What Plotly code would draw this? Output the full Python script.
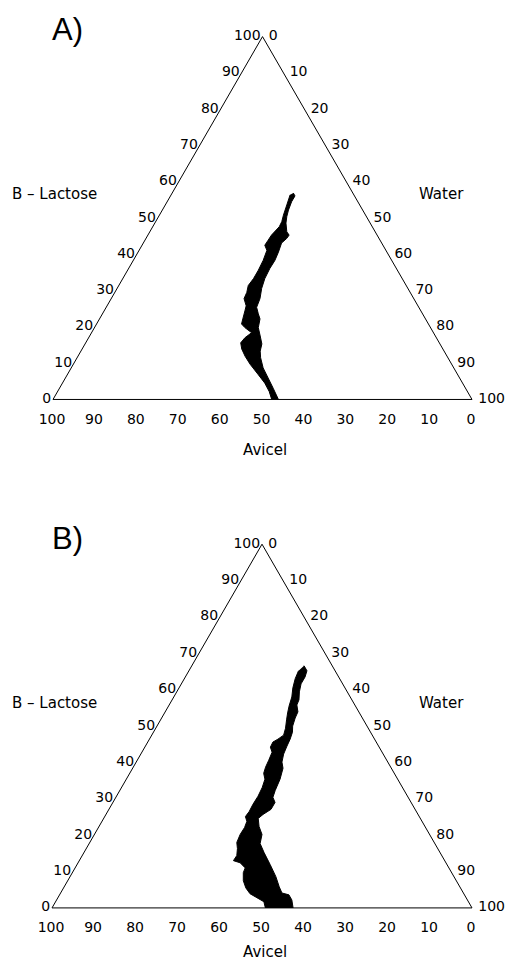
import plotly.graph_objects as go

# ---------------- data (percent) ----------------
# Panel A band outline: right edge top->bottom, then left edge bottom->top
a_lactose = [56.9, 56.1, 54.5, 52.2, 50.4, 48.6, 46.2, 45.3, 44.4, 43.1, 40.6, 38.3, 36.1, 33.3,
             30.6, 27.8, 25.4, 23.6, 22.2, 19.8, 17.5, 15.3, 13.3, 11.5, 8.7, 5.9, 3.1, 0.0,
             0.0, 2.2, 4.5, 6.9, 9.7, 11.9, 13.9, 15.6, 17.0, 18.4, 19.8, 20.8, 22.2, 24.4,
             25.8, 27.8, 29.5, 31.4, 33.3, 35.6, 38.3, 41.1, 42.5, 43.9, 45.3, 47.6, 49.0,
             50.8, 53.6, 56.4]
a_avicel = [14.2, 14.2, 15.8, 17.7, 19.0, 20.1, 21.1, 21.0, 22.0, 23.9, 25.9, 27.9, 30.2, 32.8,
            34.9, 36.7, 38.7, 39.2, 39.5, 41.1, 41.8, 42.5, 43.9, 44.7, 45.5, 45.7, 45.9, 46.2,
            47.8, 47.3, 47.2, 47.6, 48.1, 48.2, 48.0, 47.4, 45.7, 43.4, 44.3, 44.6, 43.6, 42.0,
            41.0, 40.5, 39.0, 37.7, 35.5, 33.2, 30.7, 28.4, 28.2, 26.7, 25.2, 22.2, 20.9,
            19.6, 17.4, 15.2]
a_water = [28.9, 29.7, 29.7, 30.1, 30.6, 31.3, 32.7, 33.7, 33.6, 33.0, 33.5, 33.8, 33.7, 33.9,
           34.5, 35.5, 35.9, 37.2, 38.3, 39.1, 40.7, 42.2, 42.8, 43.8, 45.8, 48.4, 51.0, 53.8,
           52.2, 50.5, 48.3, 45.5, 42.2, 39.9, 38.1, 37.0, 37.3, 38.2, 35.9, 34.6, 34.2, 33.6,
           33.2, 31.7, 31.5, 30.9, 31.2, 31.2, 31.0, 30.5, 29.3, 29.4, 29.5, 30.2, 30.1,
           29.6, 29.0, 28.4]

# Panel B band outline
b_lactose = [66.6, 65.2, 63.5, 61.6, 59.4, 57.2, 55.8, 53.9, 52.2, 50.0, 48.3, 46.4, 44.5, 42.3,
             40.1, 38.4, 35.4, 32.3, 30.4, 29.0, 27.1, 25.7, 24.6, 22.4, 20.2, 17.7, 15.2, 11.9,
             8.6, 5.8, 4.1, 3.6, 2.2, 0.0,
             0.0, 1.7, 2.8, 3.9, 5.5, 7.5, 9.7, 11.0, 12.4, 13.0, 14.4, 16.3, 18.0, 20.2, 22.1,
             23.8, 25.1, 26.5, 28.5, 30.7, 33.1, 35.4, 37.0, 38.7, 40.6, 42.8, 44.2, 45.6, 46.4,
             47.5, 49.4, 51.7, 53.6, 55.5, 58.0, 60.5, 63.0, 65.2]
b_avicel = [6.7, 6.7, 8.0, 9.9, 11.4, 12.6, 13.8, 14.5, 16.0, 17.7, 18.6, 20.1, 21.8, 23.7,
            25.2, 25.8, 28.0, 30.7, 32.2, 32.4, 34.3, 36.9, 38.6, 39.5, 39.9, 41.6, 41.9, 42.1,
            42.4, 43.0, 43.2, 41.8, 41.8, 42.6,
            49.2, 48.7, 49.8, 50.9, 51.1, 50.7, 49.6, 48.5, 49.0, 50.3, 48.8, 47.7, 47.0, 45.1,
            43.1, 41.7, 41.4, 39.8, 37.9, 35.6, 33.4, 31.6, 31.1, 29.8, 28.1, 26.2, 25.9, 24.6,
            23.0, 21.1, 19.7, 18.3, 17.1, 15.8, 13.9, 12.4, 10.6, 8.7]
b_water = [26.7, 28.1, 28.5, 28.5, 29.2, 30.2, 30.4, 31.6, 31.8, 32.3, 33.1, 33.5, 33.7, 34.0,
           34.7, 35.8, 36.6, 37.0, 37.4, 38.6, 38.6, 37.4, 36.8, 38.1, 39.9, 40.7, 42.9, 46.0,
           49.0, 51.2, 52.7, 54.6, 56.0, 57.4,
           50.8, 49.6, 47.4, 45.2, 43.4, 41.8, 40.7, 40.5, 38.6, 36.7, 36.8, 36.0, 35.0, 34.7,
           34.8, 34.5, 33.5, 33.7, 33.6, 33.7, 33.5, 33.0, 31.9, 31.5, 31.3, 31.0, 29.9, 29.8,
           30.6, 31.4, 30.9, 30.0, 29.3, 28.7, 28.1, 27.1, 26.4, 26.1]

tick_vals = [0, 10, 20, 30, 40, 50, 60, 70, 80, 90, 100]
tick_text = [str(v) for v in tick_vals]
panel_labels = ["A)", "B)"]
axis_names = {"left": "B \u2013 Lactose", "right": "Water", "bottom": "Avicel"}

FONT = "DejaVu Sans"
W, H = 512, 966
NB = "\u00a0"

fig = go.Figure()
fig.add_trace(go.Scatterternary(a=a_lactose, b=a_avicel, c=a_water, mode="lines",
                                fill="toself", fillcolor="black",
                                line=dict(color="black", width=1), subplot="ternary",
                                showlegend=False))
fig.add_trace(go.Scatterternary(a=b_lactose, b=b_avicel, c=b_water, mode="lines",
                                fill="toself", fillcolor="black",
                                line=dict(color="black", width=1), subplot="ternary2",
                                showlegend=False))


def axis(ticklen, texts):
    return dict(tickmode="array", tickvals=tick_vals, ticktext=texts,
                ticks="outside" if ticklen else "", ticklen=ticklen,
                tickcolor="rgba(0,0,0,0)",
                showgrid=False, linecolor="black", linewidth=1, title=dict(text=""),
                tickfont=dict(family=FONT, size=14, color="black"))


def tern(xd, yd):
    return dict(sum=100, domain=dict(x=xd, y=yd), bgcolor="white",
                aaxis=axis(0, tick_text),
                baxis=axis(7, [t + NB + NB for t in tick_text]),
                caxis=axis(0, [NB + t for t in tick_text]))


fig.update_layout(
    width=W, height=H, margin=dict(l=0, r=0, t=0, b=0),
    paper_bgcolor="white", plot_bgcolor="white",
    ternary=tern([53 / W, 472 / W], [0.5843, 0.9643]),
    ternary2=tern([52 / W, 472 / W], [0.0584, 0.4384]),
)

# panel labels and axis names
for i, (yc_label, yc_side, yc_bottom) in enumerate([(29, 194, 450), (538, 703, 952)]):
    fig.add_annotation(x=50 / W, y=1 - yc_label / H, xref="paper", yref="paper",
                       text=panel_labels[i], showarrow=False, xanchor="left", yanchor="middle",
                       font=dict(family="Liberation Sans", size=31, color="black"))
    fig.add_annotation(x=10 / W, y=1 - yc_side / H, xref="paper", yref="paper",
                       text=axis_names["left"], showarrow=False, xanchor="left", yanchor="middle",
                       font=dict(family=FONT, size=15, color="black"))
    fig.add_annotation(x=466 / W, y=1 - yc_side / H, xref="paper", yref="paper",
                       text=axis_names["right"], showarrow=False, xanchor="right", yanchor="middle",
                       font=dict(family=FONT, size=15, color="black"))
    fig.add_annotation(x=265 / W, y=1 - yc_bottom / H, xref="paper", yref="paper",
                       text=axis_names["bottom"], showarrow=False, xanchor="center", yanchor="middle",
                       font=dict(family=FONT, size=15, color="black"))

fig.write_html("out.html")
